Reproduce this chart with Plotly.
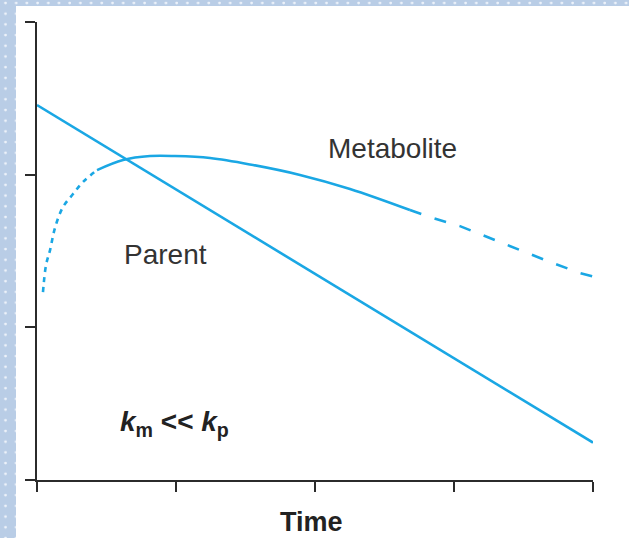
import base64
import plotly.graph_objects as go

# ---- data ----
parent_time = [0.0, 4.0]
parent_conc = [2.456, 0.245]

met_rise_time = [0.043, 0.065, 0.094, 0.129, 0.187, 0.259, 0.331, 0.432]
met_rise_conc = [1.231, 1.408, 1.506, 1.650, 1.788, 1.873, 1.952, 2.030]

met_mid_time = [0.432, 0.619, 0.813, 0.993, 1.245, 1.532, 1.892, 2.252, 2.683]
met_mid_conc = [2.030, 2.096, 2.122, 2.122, 2.109, 2.067, 1.998, 1.906, 1.768]

met_tail_time = [2.683, 2.827, 3.043, 3.259, 3.475, 3.691, 3.906, 4.0]
met_tail_conc = [1.768, 1.722, 1.663, 1.585, 1.506, 1.428, 1.356, 1.333]

x_ticks = [0, 1, 2, 3, 4]
y_ticks = [0, 1, 2, 3]

LINE = "#1aa7e4"
TEXT = "#333333"
AX = "#2b2b2b"
FONT = "Liberation Sans, Arial"

fig = go.Figure()
fig.add_trace(go.Scatter(x=parent_time, y=parent_conc, mode="lines",
                         line=dict(color=LINE, width=2.6), hoverinfo="skip"))
fig.add_trace(go.Scatter(x=met_rise_time, y=met_rise_conc, mode="lines",
                         line=dict(color=LINE, width=2.6, dash="5px,5px", shape="spline"),
                         hoverinfo="skip"))
fig.add_trace(go.Scatter(x=met_mid_time, y=met_mid_conc, mode="lines",
                         line=dict(color=LINE, width=2.6, shape="spline"), hoverinfo="skip"))
fig.add_trace(go.Scatter(x=met_tail_time, y=met_tail_conc, mode="lines",
                         line=dict(color=LINE, width=2.6, dash="12px,14px"), hoverinfo="skip"))

# dotted page border as an inline SVG image
svg = ('<svg xmlns="http://www.w3.org/2000/svg" width="629" height="538">'
       '<defs><pattern id="p" width="10.7" height="10.7" patternUnits="userSpaceOnUse">'
       '<rect width="10.7" height="10.7" fill="#b9cde6"/>'
       '<circle cx="5.5" cy="3" r="1.4" fill="#eef3fa"/></pattern></defs>'
       '<rect width="629" height="538" fill="url(#p)"/>'
       '<rect x="16" y="6" width="613" height="532" fill="#ffffff"/></svg>')
src = "data:image/svg+xml;base64," + base64.b64encode(svg.encode()).decode()

W, H = 629, 538
L, R, T, B = 37, 36, 22, 58
pw, ph = W - L - R, H - T - B

fig.add_layout_image(dict(source=src, xref="paper", yref="paper",
                          x=-L / pw, y=1 + T / ph, sizex=W / pw, sizey=H / ph,
                          xanchor="left", yanchor="top", sizing="stretch", layer="below"))

fig.add_annotation(x=2.554, y=2.17, text="Metabolite", showarrow=False,
                   xanchor="center", yanchor="middle",
                   font=dict(family=FONT, size=28, color=TEXT))
fig.add_annotation(x=0.928, y=1.48, text="Parent", showarrow=False,
                   xanchor="center", yanchor="middle",
                   font=dict(family=FONT, size=28, color=TEXT))
fig.add_annotation(x=0.986, y=0.37,
                   text="<b><i>k</i><sub>m</sub> &lt;&lt; <i>k</i><sub>p</sub></b>",
                   showarrow=False, xanchor="center", yanchor="middle",
                   font=dict(family=FONT, size=28, color="#222222"))
fig.add_annotation(x=(311 - L) / pw, y=(480 - 522) / ph, xref="paper", yref="paper",
                   text="<b>Time</b>", showarrow=False, xanchor="center", yanchor="middle",
                   borderpad=0,
                   font=dict(family=FONT, size=27, color="#222222"))

axis_common = dict(showline=True, linewidth=2, linecolor=AX, ticks="outside",
                   ticklen=10, tickwidth=2, tickcolor=AX, showticklabels=False,
                   showgrid=False, zeroline=False, fixedrange=True)
fig.update_xaxes(range=[0, 4], tickvals=x_ticks, **axis_common)
fig.update_yaxes(range=[0, 3], tickvals=y_ticks, **axis_common)

fig.update_layout(width=W, height=H, margin=dict(l=L, r=R, t=T, b=B),
                  paper_bgcolor="#ffffff", plot_bgcolor="rgba(0,0,0,0)",
                  showlegend=False)

fig.write_html("out.html")
